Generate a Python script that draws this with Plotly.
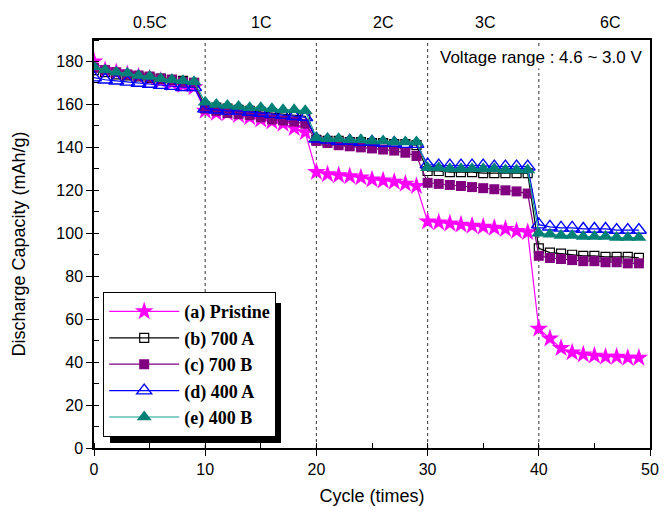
import plotly.graph_objects as go

cycles = list(range(50))

pristine = [180, 176, 175, 174, 173, 172, 171, 170, 169, 168,
            157, 156, 156, 155, 154, 153, 152, 151, 149, 147,
            128.5, 127.5, 127, 126.5, 126, 125, 124.5, 124, 123, 122,
            105.5, 105, 104.5, 104, 103.5, 103, 102.5, 102, 101, 100.5,
            55.5, 51, 46.5, 44.5, 43.5, 43, 42.5, 42.5, 42, 42]
a700 = [176, 175, 174, 173.5, 173, 172.5, 172, 171.5, 171, 170,
        159, 158.5, 158, 157.5, 157, 156.5, 156, 155.5, 155, 154.5,
        143.5, 143, 143, 142.5, 142.5, 142, 142, 141.5, 141.5, 141,
        129, 129, 128.5, 128.5, 128.5, 128, 128, 128, 128, 128,
        93, 91, 90.5, 90, 89.5, 89.5, 89, 89, 89, 88.5]
b700 = [177, 176, 175, 174, 173.5, 173, 172, 171.5, 170.5, 170,
        158, 157, 156, 155.5, 155, 154, 153, 152.5, 152, 151,
        143, 142, 141, 140.5, 140, 139.5, 139, 138.5, 137.5, 136,
        123.5, 123, 122.5, 122, 121.5, 121, 120.5, 120, 119.5, 118.5,
        89.5, 88.5, 88, 87.5, 87, 87, 86.5, 86.5, 86, 86]
a400 = [172.5, 171.5, 171, 170.5, 170, 169.5, 169, 168.5, 168, 168,
        158, 157.5, 157, 157, 156.5, 156, 155.5, 155, 154.5, 154,
        144, 143.5, 143, 143, 142.5, 142.5, 142, 142, 141.5, 141.5,
        132, 131.5, 131.5, 131.5, 131.5, 131.5, 131, 131, 131, 131,
        104, 103, 102.5, 102.5, 102, 102, 102, 101.5, 101.5, 101.5]
b400 = [177.5, 176, 175, 174.5, 173.5, 173, 172, 171.5, 171, 170.5,
        161, 160, 159.5, 159, 158.5, 158.5, 158, 157.5, 157.5, 157,
        144.5, 144, 144, 143.5, 143.5, 143, 143, 142.5, 142.5, 142.5,
        130.5, 130.5, 130, 130, 130, 130, 130, 129.5, 129.5, 129.5,
        100, 99.5, 99, 99, 98.5, 98.5, 98.5, 98, 98, 98]

series_names = ["(a) Pristine", "(b) 700 A", "(c) 700 B", "(d) 400 A", "(e) 400 B"]
rate_labels = ["0.5C", "1C", "2C", "3C", "6C"]
rate_label_x = [5, 15, 26, 35.2, 46.4]
rate_boundaries = [10, 20, 30, 40]

styles = [
    dict(line=dict(color="#FF00FF", width=1.2), marker=dict(symbol="star", size=14, color="#FF00FF", line=dict(width=0))),
    dict(line=dict(color="#000000", width=1.2), marker=dict(symbol="square-open", size=9, color="#000000", line=dict(width=1.2))),
    dict(line=dict(color="#800080", width=1.2), marker=dict(symbol="square", size=10, color="#800080", line=dict(width=0))),
    dict(line=dict(color="#0000FF", width=1.2), marker=dict(symbol="triangle-up-open", size=13, color="#0000FF", line=dict(width=1.4))),
    dict(line=dict(color="#16A090", width=1.2), marker=dict(symbol="triangle-up", size=13, color="#008077", line=dict(width=0))),
]

fig = go.Figure()
for name, ys, st in zip(series_names, [pristine, a700, b700, a400, b400], styles):
    fig.add_trace(go.Scatter(x=cycles, y=ys, mode="lines+markers", name=name, **st))

for b in rate_boundaries:
    fig.add_shape(type="line", xref="x", yref="paper", x0=b, x1=b, y0=0, y1=1,
                  line=dict(color="#555555", width=1.2, dash="dot"), layer="below")

for lab, lx in zip(rate_labels, rate_label_x):
    fig.add_annotation(x=lx, xref="x", y=1.0, yref="paper", yanchor="middle", yshift=18, text=lab,
                       showarrow=False,
                       font=dict(family="Liberation Sans, Arial", size=16, color="black"))

fig.add_annotation(x=0.99, xref="paper", y=0.985, yref="paper", xanchor="right", yanchor="top",
                   text="Voltage range : 4.6 ~ 3.0 V", showarrow=False, bgcolor="white",
                   font=dict(family="Liberation Sans, Arial", size=17, color="black"))

# legend shadow
W = 556.0
H = 408.0
fig.add_shape(type="rect", xref="paper", yref="paper",
              x0=(110 - 94) / W, x1=(281 - 94) / W, y0=(448 - 443) / H, y1=(448 - 303) / H,
              fillcolor="black", line=dict(width=0), layer="above")

axis_common = dict(showline=True, linecolor="black", linewidth=1.5, mirror=True,
                   ticks="outside", ticklen=6, tickwidth=1.2, tickcolor="black",
                   showgrid=False, zeroline=False, automargin=False,
                   tickfont=dict(family="Liberation Sans, Arial", size=16, color="black"))

fig.update_layout(
    width=665, height=506,
    margin=dict(l=94, r=15, t=40, b=58),
    plot_bgcolor="white", paper_bgcolor="white",
    xaxis=dict(range=[0, 50], dtick=10, tick0=0,
               minor=dict(ticks="inside", ticklen=5, dtick=5, tickcolor="black"),
               title=dict(text="Cycle (times)", standoff=12,
                          font=dict(family="Liberation Sans, Arial", size=18, color="black")),
               **axis_common),
    yaxis=dict(range=[0, 190], dtick=20, tick0=0,
               minor=dict(ticks="inside", ticklen=5, dtick=10, tickcolor="black"),
               title=dict(text="Discharge Capacity (mAh/g)", standoff=26,
                          font=dict(family="Liberation Sans, Arial", size=18, color="black")),
               **axis_common),
    legend=dict(x=(103 - 94) / W, y=(448 - 437) / H, xanchor="left", yanchor="bottom",
                bgcolor="white", bordercolor="black", borderwidth=1.2,
                font=dict(family="Liberation Serif, Times New Roman", size=18, color="black", weight="bold"),
                tracegroupgap=0, itemwidth=70),
    showlegend=True,
)

fig.write_html("out.html", config={"displayModeBar": False},
               post_script="document.body.style.margin='0';document.body.style.overflow='hidden';")
